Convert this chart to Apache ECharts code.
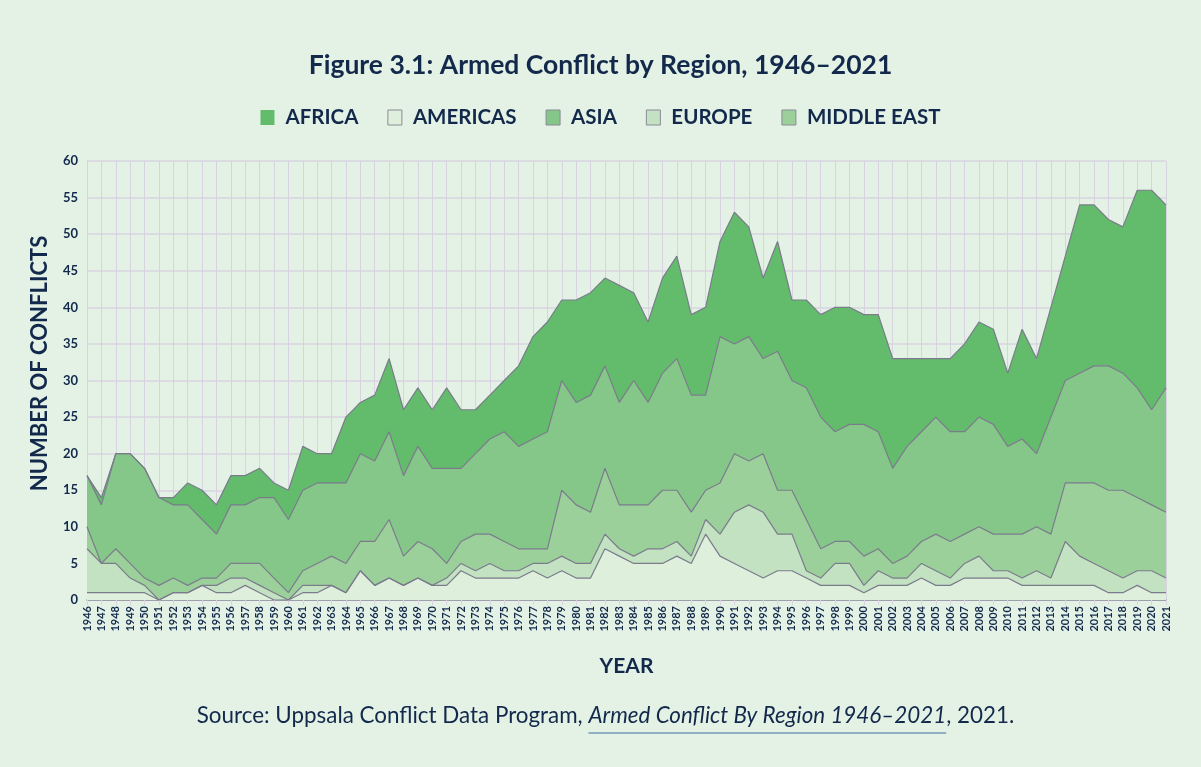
<!DOCTYPE html>
<html>
<head>
<meta charset="utf-8">
<script src="https://cdn.jsdelivr.net/npm/echarts@6/dist/echarts.min.js"></script>
<style>
  html, body { margin: 0; padding: 0; background: #e4f2e6; }
  #chart { width: 1201px; height: 767px; }
</style>
</head>
<body>
<div id="chart"></div>
<script>
var years = [];
for (var y = 1946; y <= 2021; y++) years.push(String(y));

// counts per region
var americas = [1,1,1,1,1,0,1,1,2,1,1,2,1,0,0,1,1,2,1,4,
  2,3,2,3,2,2,4,3,3,3,3,4,3,4,3,3,7,6,5,5,
  5,6,5,9,6,5,4,3,4,4,3,2,2,2,1,2,2,2,3,2,
  2,3,3,3,3,2,2,2,2,2,2,1,1,2,1,1];
var europe = [6,4,4,2,1,0,0,0,0,1,2,1,1,1,0,1,1,0,0,0,
  0,0,0,0,0,1,1,1,2,1,1,1,2,2,2,2,2,1,1,2,
  2,2,1,2,3,7,9,9,5,5,1,1,3,3,1,2,1,1,2,2,
  1,2,3,1,1,1,2,1,6,4,3,3,2,2,3,2];
var middleEast = [3,0,2,2,1,2,2,1,1,1,2,2,3,2,1,2,3,4,4,4,
  6,8,4,5,5,2,3,5,4,4,3,2,2,9,8,7,9,6,7,6,
  8,7,6,4,7,8,6,8,6,6,7,4,3,3,4,3,2,3,3,5,
  5,4,4,5,5,6,6,6,8,10,11,11,12,10,9,9];
var asia = [7,8,13,15,15,12,10,11,8,6,8,8,9,11,10,11,11,10,11,12,
  11,12,11,13,11,13,10,11,13,15,14,15,16,15,14,16,14,14,17,14,
  16,18,16,13,20,15,17,13,19,15,18,18,15,16,18,16,13,15,15,16,
  15,14,15,15,12,13,10,16,14,15,16,17,16,15,13,17];
var africa = [0,1,0,0,0,0,1,3,4,4,4,4,4,2,4,6,4,4,9,7,
  9,10,9,8,8,11,8,6,6,7,11,14,15,11,14,14,12,16,12,11,
  13,14,11,12,13,18,15,11,15,11,12,14,17,16,15,16,15,12,10,8,
  10,12,13,13,10,15,13,15,17,23,22,20,20,27,30,25];

var navy = '#13294b';
var edge = '#7b7b8c';
var grid = '#d9d3e1';
var font = 'Lato';

// source line pieces, the middle one italic and underlined
var srcA = 'Source: Uppsala Conflict Data Program, ';
var srcB = 'Armed Conflict By Region 1946–2021';
var srcC = ', 2021.';
var srcSize = 22.4;
var ctx = document.createElement('canvas').getContext('2d');
ctx.font = srcSize + 'px ' + font;
var wA = ctx.measureText(srcA).width;
var wC = ctx.measureText(srcC).width;
ctx.font = 'italic ' + srcSize + 'px ' + font;
var wB = ctx.measureText(srcB).width;
var srcLeft = (1211 - (wA + wB + wC)) / 2;

function area(name, data, color) {
  return {
    name: name,
    type: 'line',
    stack: 'total',
    symbol: 'none',
    data: data,
    lineStyle: { color: edge, width: 1.2 },
    itemStyle: { color: color },
    areaStyle: { color: color, opacity: 1 }
  };
}

var chart = echarts.init(document.getElementById('chart'));
var option = {
  backgroundColor: '#e4f2e6',
  animation: false,
  textStyle: { fontFamily: font },
  title: {
    text: 'Figure 3.1: Armed Conflict by Region, 1946–2021',
    left: 'center',
    top: 47,
    textStyle: { color: navy, fontSize: 26.5, fontWeight: 'bold', fontFamily: font }
  },
  legend: {
    top: 102,
    left: 'center',
    icon: 'rect',
    itemWidth: 14,
    itemHeight: 15,
    itemGap: 29,
    textStyle: { color: navy, fontSize: 20.5, fontWeight: 'bold', fontFamily: font, padding: [0, 0, 0, 6] },
    data: [
      { name: 'AFRICA' },
      { name: 'AMERICAS', itemStyle: { borderColor: '#8a8a96', borderWidth: 1 } },
      { name: 'ASIA', itemStyle: { borderColor: '#8a8a96', borderWidth: 1 } },
      { name: 'EUROPE', itemStyle: { borderColor: '#8a8a96', borderWidth: 1 } },
      { name: 'MIDDLE EAST', itemStyle: { borderColor: '#8a8a96', borderWidth: 1 } }
    ]
  },
  grid: { left: 87, right: 35, top: 161, bottom: 167 },
  xAxis: {
    type: 'category',
    data: years,
    boundaryGap: false,
    name: 'YEAR',
    nameLocation: 'middle',
    nameGap: 56,
    nameTextStyle: { color: navy, fontSize: 21, fontWeight: 'bold', fontFamily: font },
    axisLine: { lineStyle: { color: '#8a8a9a', width: 1.5 } },
    axisTick: { show: true, interval: 0, length: 5, lineStyle: { color: grid } },
    axisLabel: { interval: 0, rotate: 90, margin: 6, color: navy, fontSize: 11, fontWeight: 'bold', fontFamily: font },
    splitLine: { show: true, interval: 0, lineStyle: { color: grid, width: 1 } }
  },
  yAxis: {
    type: 'value',
    min: 0,
    max: 60,
    interval: 5,
    name: 'NUMBER OF CONFLICTS',
    nameLocation: 'middle',
    nameRotate: 90,
    nameGap: 36,
    nameTextStyle: { color: navy, fontSize: 22, fontWeight: 'bold', fontFamily: font, padding: [0, 0, 0, 34] },
    axisLine: { show: false },
    axisTick: { show: false },
    axisLabel: { color: navy, fontSize: 13, fontWeight: 'bold', fontFamily: font, margin: 9 },
    splitLine: { lineStyle: { color: grid, width: 1.5 } }
  },
  series: [
    area('AMERICAS', americas, '#deefdc'),
    area('EUROPE', europe, '#c3e2c2'),
    area('MIDDLE EAST', middleEast, '#9bd09a'),
    area('ASIA', asia, '#85c788'),
    area('AFRICA', africa, '#63bc6b')
  ],
  graphic: [
    {
      type: 'text',
      x: srcLeft,
      y: 705,
      style: {
        text: '{n|' + srcA + '}{i|' + srcB + '}{n|' + srcC + '}',
        rich: {
          n: { fontSize: srcSize, fill: navy, fontFamily: font },
          i: { fontSize: srcSize, fill: navy, fontStyle: 'italic', fontFamily: font }
        }
      }
    },
    {
      type: 'line',
      shape: { x1: srcLeft + wA, y1: 733, x2: srcLeft + wA + wB, y2: 733 },
      style: { stroke: '#3b6e9e', lineWidth: 1.2 }
    }
  ]
};
chart.setOption(option);
</script>
</body>
</html>
